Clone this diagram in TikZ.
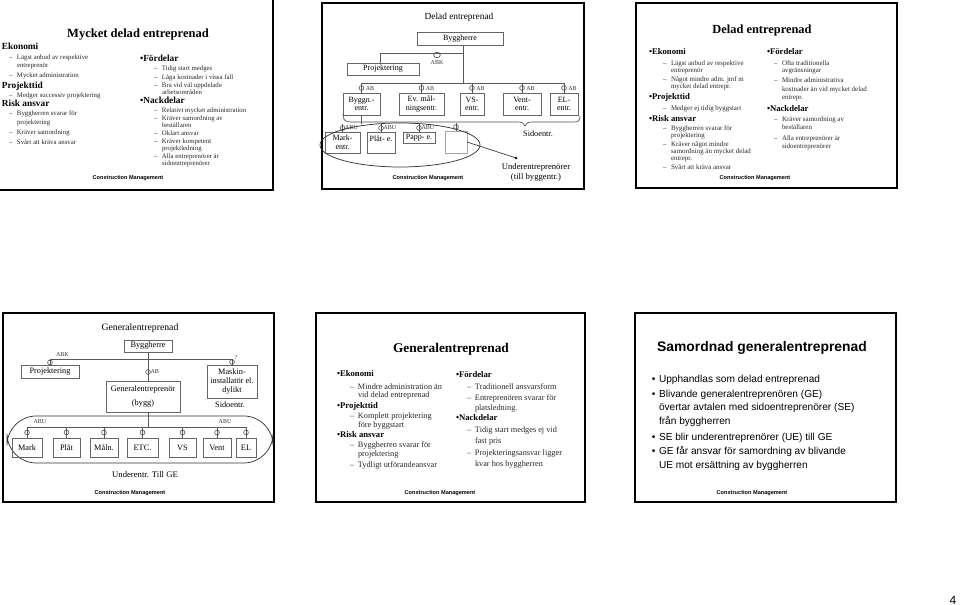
\documentclass[tikz,border=0pt]{standalone}
\usepackage{fontspec}
\setmainfont{Liberation Serif}
\newfontfamily\arialf{Liberation Sans}
\newcommand\dl{\llap{\makebox[6pt][l]{–}}}
\newcommand\bl{\llap{\makebox[5.4pt][l]{•}}}
\begin{document}
\begin{tikzpicture}[x=0.75pt,y=-0.75pt,
  every node/.style={inner sep=0pt,outer sep=0pt},
  frm/.style={draw=black,line width=0.8pt},
  frs/.style={draw=black,line width=1.4pt},
  ln/.style={draw=black!65,line width=0.5pt},
  lt/.style={anchor=base west},
  ct/.style={anchor=base},
  ttlA/.style={ct,font=\fontsize{9.4}{11}\selectfont\bfseries},
  ttlB/.style={ct,font=\fontsize{7}{8}\selectfont},
  ttlC/.style={ct,font=\fontsize{9.3}{11}\selectfont\bfseries},
  ttlE/.style={ct,font=\fontsize{10}{12}\selectfont\bfseries},
  ttlF/.style={ct,font=\arialf\fontsize{10.4}{12}\selectfont\bfseries},
  hA/.style={lt,font=\fontsize{7}{8}\selectfont\bfseries},
  iA/.style={lt,font=\fontsize{5.1}{6}\selectfont,text=black!85},
  hC/.style={lt,font=\fontsize{6.5}{8}\selectfont\bfseries},
  iC/.style={lt,font=\fontsize{5.2}{6}\selectfont,text=black!85},
  hE/.style={lt,font=\fontsize{6.5}{8}\selectfont\bfseries},
  iE/.style={lt,font=\fontsize{6.2}{7}\selectfont,text=black!85},
  iF/.style={lt,font=\arialf\fontsize{7.6}{9}\selectfont},
  cmlbl/.style={ct,font=\arialf\fontsize{4.2}{5}\selectfont\bfseries},
  lbl/.style={font=\fontsize{4.5}{5}\selectfont,text=black!80},
  bxB/.style={draw=black!60,line width=0.5pt,align=center,font=\fontsize{6}{6.5}\selectfont},
  bxD/.style={draw=black!60,line width=0.5pt,align=center,font=\fontsize{6.2}{7}\selectfont},
  sym/.style={circle,draw=black!70,line width=0.45pt,minimum size=3.6pt}
]
\useasboundingbox (0,0) rectangle (960,605);

% ================= Slide 1: Mycket delad entreprenad =================
\draw[frs] (273,0) -- (273,190) -- (0,190);
\node[ttlA] (t1) at (138,38) {Mycket delad entreprenad};
\node[hA] (a1) at (2,50) {Ekonomi};
\node[iA] (a2) at (17,60) {\dl Lägst anbud av respektive};
\node[iA] (a3) at (17,68) {entreprenör};
\node[iA] (a4) at (17,78) {\dl Mycket administration};
\node[hA] (a5) at (2,89) {Projekttid};
\node[iA] (a6) at (17,98) {\dl Medger successiv projektering};
\node[hA] (a7) at (2,107) {Risk ansvar};
\node[iA] (a8) at (17,116) {\dl Byggherren svarar för};
\node[iA] (a9) at (17,125) {projektering};
\node[iA] (a10) at (17,135) {\dl Kräver samordning};
\node[iA] (a11) at (17,145) {\dl Svårt att kräva ansvar};
\node[hA] (b1) at (140,62) {•Fördelar};
\node[iA] (b2) at (162,71) {\dl Tidig start medges};
\node[iA] (b3) at (162,80) {\dl Låga kostnader i vissa fall};
\node[iA] (b4) at (162,88) {\dl Bra vid väl uppdelade};
\node[iA] (b5) at (162,95) {arbetsområden};
\node[hA] (b6) at (140,104) {•Nackdelar};
\node[iA] (b7) at (162,113) {\dl Relativt mycket administration};
\node[iA] (b8) at (162,121) {\dl Kräver samordning av};
\node[iA] (b9) at (162,128) {beställaren};
\node[iA] (b10) at (162,136) {\dl Oklart ansvar};
\node[iA] (b11) at (162,144) {\dl Kräver kompetent};
\node[iA] (b12) at (162,151) {projektledning};
\node[iA] (b13) at (162,159) {\dl Alla entreprenörer är};
\node[iA] (b14) at (162,166) {sidoentreprenörer};
\node[cmlbl] (cm1) at (128,180) {Construction Management};

% ================= Slide 2: Delad entreprenad (org chart) =================
\draw[frm] (322,3) rectangle (584,189);
\draw[frs] (584,3) -- (584,189) -- (322,189);
\node[ttlB] (t2) at (459,20) {Delad entreprenad};
\node[bxB,minimum width=64.5pt,minimum height=9.75pt] (byh2) at (460,38.5) {Byggherre};
\node[bxB,minimum width=54pt,minimum height=9pt] (prj2) at (383,69) {Projektering};
\coordinate (j2) at (463,83);
\coordinate (k2) at (463,53.5);
\draw[ln] (byh2.south -| j2) -- (j2);
\draw[ln] (prj2.north -| 380,0) |- (k2);
\draw[draw=black!70,line width=0.45pt] (437,55) ellipse [x radius=3.3, y radius=2.8];
\node[lbl,anchor=base] (abkl2) at (437,64.5) {ABK};
\node[bxB,minimum width=28pt,minimum height=16.5pt] (bygg2) at (361.5,104) {Byggn.-\\entr.};
\node[bxB,minimum width=34pt,minimum height=16.5pt] (ev2) at (421.5,104) {Ev. mål-\\ningsentr.};
\node[bxB,minimum width=18pt,minimum height=16.5pt] (vs2) at (472,104) {VS-\\entr.};
\node[bxB,minimum width=28.5pt,minimum height=16.5pt] (vent2) at (522,104) {Vent-\\entr.};
\node[bxB,minimum width=21pt,minimum height=16.5pt] (el2) at (564,104) {EL-\\entr.};
\draw[ln] (bygg2.north |- j2) -- (el2.north |- j2);
\foreach \b in {bygg2,ev2,vs2,vent2,el2}{
  \draw[ln] (\b.north |- j2) -- (\b.north);
  \node[sym] at ([yshift=5*0.75pt]\b.north) {};
  \node[lbl,anchor=west] at ([xshift=3.2pt,yshift=4.6*0.75pt]\b.north) {AB};
}
% brace
\draw[draw=black!70,line width=0.5pt] (343,114) .. controls (343,120) and (345,122) .. (351,122) -- (518,122) .. controls (522,122) and (524,123) .. (525,126) .. controls (526,123) and (528,122) .. (532,122) -- (574,122) .. controls (579,122) and (580,120) .. (580,116);
\node[ct,font=\fontsize{6.2}{7}\selectfont] (sid2) at (538,137) {Sidoentr.};
% lower row
\node[bxB,minimum width=26.25pt,minimum height=15.75pt] (mark2) at (342.5,142.5) {Mark-\\entr.};
\node[bxB,minimum width=21pt,minimum height=15.75pt] (plat2) at (381,142.5) {Plåt- e.\\\mbox{}};
\node[bxB,minimum width=24pt,minimum height=8.25pt] (papp2) at (419,137.5) {Papp- e.};
\node[draw=black!35,line width=0.5pt,minimum width=16.5pt,minimum height=16.5pt] (dot2) at (456,142) {};
\draw[ln] (bygg2.south) -- ++(0,9);
\foreach \b in {mark2,plat2,papp2,dot2}{
  \draw[ln] ([yshift=7.5*0.75pt]\b.north) -- (\b.north);
  \node[sym] at ([yshift=4*0.75pt]\b.north) {};
}
\node[lbl,anchor=west] (abu1) at (345,128) {ABU};
\node[lbl,anchor=west] (abu2) at (383.5,128) {ABU};
\node[lbl,anchor=west] (abu3) at (421.5,128) {ABU};
\draw[draw=black!80,line width=0.55pt] (400,145) ellipse [x radius=80, y radius=22];
\coordinate (ue2) at (516,158);
\draw[ln,draw=black!80] (dot2.east) -- (ue2);
\fill (ue2) circle (1.3);
\node[ct,font=\fontsize{6.5}{7}\selectfont] (ue2a) at (536,170) {Underentreprenörer};
\node[ct,font=\fontsize{6.5}{7}\selectfont] (ue2b) at (536,180) {(till byggentr.)};
\node[cmlbl] (cm2) at (428,180) {Construction Management};

% ================= Slide 3: Delad entreprenad (text) =================
\draw[frm] (636,3) rectangle (897,188);
\draw[frs] (897,3) -- (897,188) -- (636,188);
\node[ttlC] (t3) at (762,34) {Delad entreprenad};
\node[hC] (c1) at (649,55) {•Ekonomi};
\node[iC] (c2) at (671,66) {\dl Lägst anbud av respektive};
\node[iC] (c3) at (671,73) {entreprenör};
\node[iC] (c4) at (671,82) {\dl Något mindre adm. jmf m};
\node[iC] (c5) at (671,89) {mycket delad entrepr.};
\node[hC] (c6) at (649,100) {•Projekttid};
\node[iC] (c7) at (671,111) {\dl Medger ej tidig byggstart};
\node[hC] (c8) at (649,122) {•Risk ansvar};
\node[iC] (c9) at (671,131) {\dl Byggherren svarar för};
\node[iC] (c10) at (671,138) {projektering};
\node[iC] (c11) at (671,147) {\dl Kräver något mindre};
\node[iC] (c12) at (671,154) {samordning än mycket delad};
\node[iC] (c13) at (671,161) {entrepr.};
\node[iC] (c14) at (671,170) {\dl Svårt att kräva ansvar};
\node[hC] (d1) at (767,55) {•Fördelar};
\node[iC] (d2) at (782,66) {\dl Ofta traditionella};
\node[iC] (d3) at (782,73) {avgränsningar};
\node[iC] (d4) at (782,83) {\dl Mindre administrativa};
\node[iC] (d5) at (782,92) {kostnader än vid mycket delad};
\node[iC] (d6) at (782,100) {entrepr.};
\node[hC] (d7) at (767,112) {•Nackdelar};
\node[iC] (d8) at (782,122) {\dl Kräver samordning av};
\node[iC] (d9) at (782,130) {beställaren};
\node[iC] (d10) at (782,141) {\dl Alla entreprenörer är};
\node[iC] (d11) at (782,149) {sidoentreprenörer};
\node[cmlbl] (cm3) at (755,180) {Construction Management};

% ================= Slide 4: Generalentreprenad (org chart) =================
\draw[frm] (3,313) rectangle (274,502);
\draw[frs] (274,313) -- (274,502) -- (3,502);
\node[ttlB,font=\fontsize{7.3}{8}\selectfont] (t4) at (140,331) {Generalentreprenad};
\node[bxD,minimum width=36pt,minimum height=9pt] (byh4) at (148,346) {Byggherre};
\node[bxD,minimum width=43.5pt,minimum height=9.75pt] (prj4) at (50,371.5) {Projektering};
\node[bxD,minimum width=37.5pt,minimum height=24.75pt] (mask4) at (232,381.5) {Maskin-\\installatör el.\\dylikt};
\node[bxD,minimum width=55.5pt,minimum height=23.25pt] (ge4) at (143,396.5) {Generalentreprenör\\[3pt](bygg)};
\coordinate (h4) at (0,359);
\draw[ln] (prj4.north) |- (mask4.north |- h4) -- (mask4.north);
\node[sym] at (50,362.5) {};
\node[sym] at (232,362) {};
\node[lbl,anchor=base west] (abk4) at (56,356.5) {ABK};
\node[lbl,anchor=base west] (q4) at (234.5,360) {?};
\draw[ln] (byh4.south) -- (byh4.south |- ge4.north);
\node[sym] at (148,372) {};
\node[lbl,anchor=west] (ab4) at (150.5,372) {AB};
\node[ct,font=\fontsize{6.2}{7}\selectfont] (sid4) at (230,408) {Sidoentr.};
\draw[draw=black!80,line width=0.55pt,rounded corners=22pt] (7,416) rectangle (273,463);
\node[bxD,minimum width=22.5pt,minimum height=14.25pt] (mark4) at (27,447.5) {Mark};
\node[bxD,minimum width=20.25pt,minimum height=14.25pt] (plat4) at (66.5,447.5) {Plåt};
\node[bxD,minimum width=21pt,minimum height=14.25pt] (maln4) at (104,447.5) {Måln.};
\node[bxD,minimum width=23.25pt,minimum height=14.25pt] (etc4) at (142.5,447.5) {ETC.};
\node[bxD,minimum width=20.25pt,minimum height=14.25pt] (vs4) at (182.5,447.5) {VS};
\node[bxD,minimum width=21pt,minimum height=14.25pt] (vent4) at (217,447.5) {Vent};
\node[bxD,minimum width=15pt,minimum height=14.25pt] (el4) at (246,447.5) {EL};
\coordinate (j4) at (0,427);
\draw[ln] (ge4.south -| byh4.south) -- (byh4.south |- j4);
\draw[ln] (mark4.north |- j4) -- (el4.north |- j4);
\foreach \b in {mark4,plat4,maln4,etc4,vs4,vent4,el4}{
  \draw[ln] (\b.north |- j4) -- (\b.north);
  \node[sym] at ([yshift=5.5*0.75pt]\b.north) {};
}
\node[lbl,anchor=base] (abu4a) at (40,424) {ABU};
\node[lbl,anchor=base] (abu4b) at (225,424) {ABU};
\node[ct,font=\fontsize{6.5}{7}\selectfont] (ue4) at (145,478) {Underentr. Till GE};
\node[cmlbl] (cm4) at (130,494) {Construction Management};

% ================= Slide 5: Generalentreprenad (text) =================
\draw[frm] (316,313) rectangle (585,502);
\draw[frs] (585,313) -- (585,502) -- (316,502);
\node[ttlE] (t5) at (451,353) {Generalentreprenad};
\node[hE] (e1) at (337,377) {•Ekonomi};
\node[iE] (e2) at (358,390) {\dl Mindre administration än};
\node[iE] (e3) at (358,398) {vid delad entreprenad};
\node[hE] (e4) at (337,409) {•Projekttid};
\node[iE] (e5) at (358,419) {\dl Komplett projektering};
\node[iE] (e6) at (358,428) {före byggstart};
\node[hE] (e7) at (337,438) {•Risk ansvar};
\node[iE] (e8) at (358,448) {\dl Byggherren svarar för};
\node[iE] (e9) at (358,457) {projektering};
\node[iE] (e10) at (358,468) {\dl Tydligt utförandeansvar};
\node[hE] (f1) at (456,378) {•Fördelar};
\node[iE] (f2) at (475,390) {\dl Traditionell ansvarsform};
\node[iE] (f3) at (475,401) {\dl Entreprenören svarar för};
\node[iE] (f4) at (475,411) {platsledning.};
\node[hE] (f5) at (456,421) {•Nackdelar};
\node[iE] (f6) at (475,433) {\dl Tidig start medges ej vid};
\node[iE] (f7) at (475,444) {fast pris};
\node[iE] (f8) at (475,456) {\dl Projekteringsansvar ligger};
\node[iE] (f9) at (475,467) {kvar hos byggherren};
\node[cmlbl] (cm5) at (440,494) {Construction Management};

% ================= Slide 6: Samordnad generalentreprenad =================
\draw[frm] (635,313) rectangle (896,502);
\draw[frs] (896,313) -- (896,502) -- (635,502);
\node[ttlF] (t6) at (762,352) {Samordnad generalentreprenad};
\node[iF] (g1) at (659,383) {\bl Upphandlas som delad entreprenad};
\node[iF] (g2) at (659,398) {\bl Blivande generalentreprenören (GE)};
\node[iF] (g3) at (659,411) {övertar avtalen med sidoentreprenörer (SE)};
\node[iF] (g4) at (659,425) {från byggherren};
\node[iF] (g5) at (659,441) {\bl SE blir underentreprenörer (UE) till GE};
\node[iF] (g6) at (659,455) {\bl GE får ansvar för samordning av blivande};
\node[iF] (g7) at (659,469) {UE mot ersättning av byggherren};
\node[cmlbl] (cm6) at (752,494) {Construction Management};

% page number
\node[ct,font=\arialf\fontsize{9}{10}\selectfont] (pg) at (953,604) {4};
\end{tikzpicture}
\end{document}
